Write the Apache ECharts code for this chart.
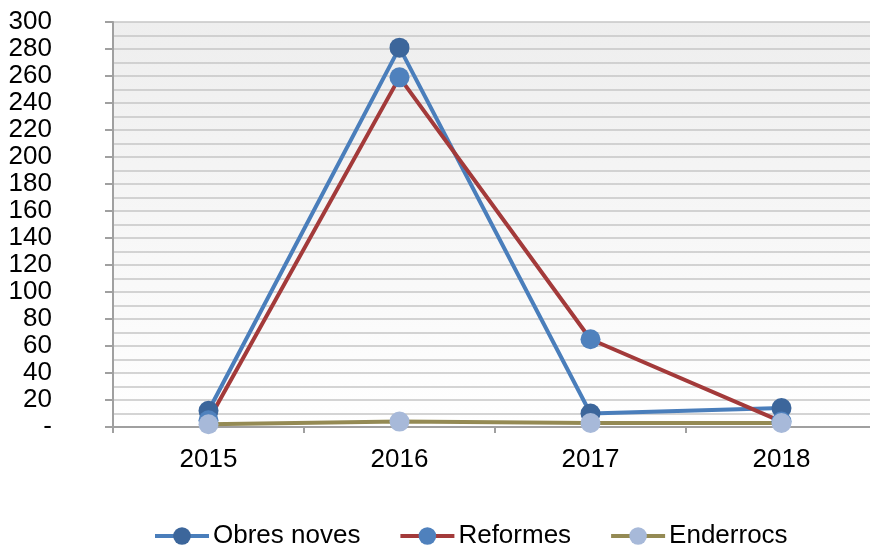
<!DOCTYPE html>
<html>
<head>
<meta charset="utf-8">
<script src="https://cdn.jsdelivr.net/npm/echarts@6/dist/echarts.min.js"></script>
<style>html,body{margin:0;padding:0;background:#fff;}#c{width:870px;height:550px;}</style>
</head>
<body>
<div id="c"></div>
<script>
const years = ['2015', '2016', '2017', '2018'];
const obresNoves = [12, 281, 10, 14];
const reformes = [5, 259, 65, 4];
const enderrocs = [2, 4, 3, 3];

const FONT = '"Liberation Sans", Arial, sans-serif';
const chart = echarts.init(document.getElementById('c'), null, {renderer: 'canvas'});
function mk(name, data, lineColor, markerColor) {
  return {
    name: name, type: 'line', data: data,
    symbol: 'circle', symbolSize: 20,
    lineStyle: {color: lineColor, width: 4},
    itemStyle: {color: markerColor},
    emphasis: {disabled: true},
    animation: false
  };
}
chart.setOption({
  animation: false,
  textStyle: {fontFamily: FONT},
  grid: {
    left: 113, top: 22, width: 764, height: 405,
    containLabel: false, outerBoundsMode: 'none',
    show: true, borderWidth: 0,
    backgroundColor: new echarts.graphic.LinearGradient(0, 0, 0, 1, [
      {offset: 0, color: '#eeeeee'}, {offset: 1, color: '#ffffff'}
    ])
  },
  legend: {
    left: 153, top: 523, padding: 0,
    itemWidth: 54, itemHeight: 22, itemGap: 38,
    lineStyle: {width: 4},
    textStyle: {fontSize: 26, color: '#000', fontFamily: FONT, padding: [0, 0, 0, -1]},
    data: ['Obres noves', 'Reformes', 'Enderrocs']
  },
  xAxis: {
    type: 'category', data: years, boundaryGap: true,
    axisLine: {lineStyle: {color: '#a0a0a0', width: 2}},
    axisTick: {show: true, length: 6, lineStyle: {color: '#a0a0a0', width: 2}},
    axisLabel: {fontSize: 26, color: '#000', margin: 20, fontFamily: FONT},
    splitLine: {show: false}
  },
  yAxis: {
    type: 'value', min: 0, max: 300, interval: 20,
    axisLine: {show: true, lineStyle: {color: '#a0a0a0', width: 2}},
    axisTick: {show: true, length: 8, lineStyle: {color: '#a0a0a0', width: 2}},
    axisLabel: {fontSize: 26, color: '#000', margin: 61, align: 'right', fontFamily: FONT,
      formatter: function (v) { return v === 0 ? '-' : String(v); }},
    splitLine: {show: true, lineStyle: {color: '#c6c6c6', width: 1.5}},
    minorTick: {show: false, splitNumber: 2},
    minorSplitLine: {show: true, lineStyle: {color: '#c6c6c6', width: 1.5}}
  },
  series: [
    mk('Obres noves', obresNoves, '#4a7ebb', '#3c669b'),
    mk('Reformes', reformes, '#a33a3a', '#4f81bd'),
    mk('Enderrocs', enderrocs, '#948a54', '#a7b9d9')
  ]
});
</script>
</body>
</html>
